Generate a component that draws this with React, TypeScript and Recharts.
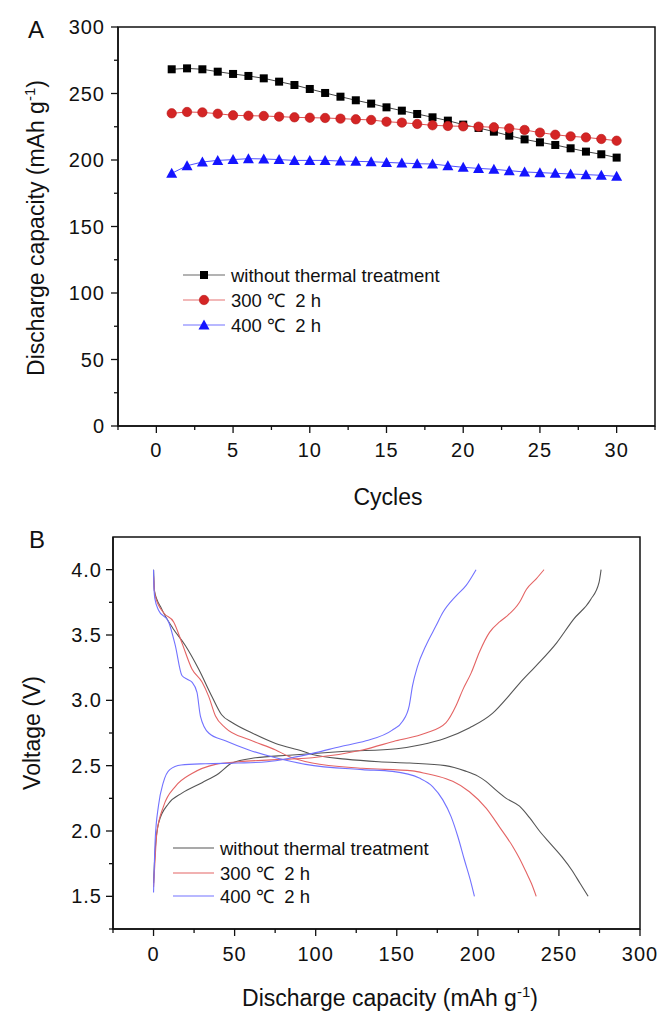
import React from 'react';
import { LineChart, Line, XAxis, YAxis, ReferenceArea } from 'recharts';

const FONT = '"Liberation Sans", Arial, Helvetica, sans-serif';

// ---------- Panel A data ----------
const cycles = [1, 2, 3, 4, 5, 6, 7, 8, 9, 10, 11, 12, 13, 14, 15, 16, 17, 18, 19, 20, 21, 22, 23, 24, 25, 26, 27, 28, 29, 30];
const capNoTreat = [268.2, 268.9, 268.2, 266.4, 264.7, 263.2, 261.4, 258.9, 256.4, 253.4, 250.4, 247.6, 244.9, 242.4, 239.6, 237.1, 234.6, 232.1, 229.6, 226.6, 224.1, 221.3, 218.3, 215.5, 213.3, 211.3, 208.8, 206.3, 204.3, 201.8];
const cap300 = [235.1, 236.1, 235.8, 234.8, 233.6, 233.3, 233.1, 232.6, 232.1, 231.8, 231.6, 231.1, 230.6, 230.1, 228.8, 228.1, 227.1, 226.1, 225.6, 225.3, 225.1, 224.6, 223.8, 222.6, 220.6, 219.0, 217.8, 217.0, 215.8, 214.5];
const cap400 = [190.0, 195.7, 198.5, 199.7, 200.3, 201.0, 200.8, 200.3, 199.7, 199.7, 199.7, 199.2, 199.0, 198.7, 198.2, 197.7, 197.2, 197.0, 195.7, 194.5, 193.7, 193.0, 192.0, 191.0, 190.5, 190.0, 189.5, 189.0, 188.5, 187.7];

const xMajorA = [0, 5, 10, 15, 20, 25, 30];
const xMinorA = [-2.5, 2.5, 7.5, 12.5, 17.5, 22.5, 27.5, 32.5];
const yMajorA = [0, 50, 100, 150, 200, 250, 300];
const yMinorA = [25, 75, 125, 175, 225, 275];

// ---------- Panel B data ----------
const blackDisCap = [0, 0.3, 0.5, 5, 12, 19.6, 27.8, 36, 42, 48.4, 60.8, 75.3, 92, 98, 118.5, 139, 158, 180, 192, 200, 205, 211, 217.5, 225.7, 232, 238, 245, 252, 258, 263, 268];
const blackDisV = [4.0, 3.9, 3.84, 3.7, 3.55, 3.42, 3.24, 3.03, 2.89, 2.83, 2.75, 2.67, 2.61, 2.585, 2.55, 2.53, 2.52, 2.5, 2.46, 2.42, 2.38, 2.315, 2.25, 2.19, 2.1, 2.0, 1.9, 1.8, 1.7, 1.6, 1.5];
const redDisCap = [0, 0.5, 1, 6.2, 12.4, 17.5, 23.7, 29.9, 34, 38.2, 44.3, 58.8, 75.3, 83.5, 97.9, 128.8, 159.7, 168, 180.4, 184.5, 194.8, 205.1, 213.4, 221.6, 225.7, 230, 233, 236];
const redDisV = [3.95, 3.85, 3.8, 3.67, 3.6, 3.44, 3.24, 3.14, 3.03, 2.88, 2.79, 2.7, 2.62, 2.57, 2.52, 2.48, 2.46, 2.44, 2.4, 2.38, 2.3, 2.175, 2.03, 1.88, 1.79, 1.68, 1.6, 1.5];
const blueDisCap = [0, 0.3, 0.8, 3.1, 9.3, 13.4, 17.5, 21, 23.7, 26.8, 28.9, 34, 44.3, 58.8, 75.3, 93.8, 128.8, 147.4, 163.9, 172.1, 178.3, 183.5, 187.6, 191.7, 195.9, 197.9];
const blueDisV = [4.0, 3.85, 3.78, 3.69, 3.6, 3.42, 3.19, 3.16, 3.14, 3.06, 2.88, 2.75, 2.69, 2.62, 2.56, 2.51, 2.47, 2.456, 2.405, 2.34, 2.24, 2.11, 1.96, 1.78, 1.6, 1.5];

const blackChgCap = [0, 1, 3.1, 9.3, 17.5, 29.9, 40.2, 48.4, 62.9, 83.5, 118.5, 150, 165, 180, 195, 209, 219.5, 225.7, 235.6, 248.6, 259, 269.5, 274.7, 276];
const blackChgV = [1.6, 1.85, 2.06, 2.21, 2.29, 2.37, 2.44, 2.52, 2.56, 2.58, 2.61, 2.63, 2.66, 2.71, 2.79, 2.9, 3.04, 3.13, 3.26, 3.44, 3.62, 3.77, 3.9, 4.0];
const redChgCap = [0, 0.8, 2, 6.2, 13.4, 23.7, 38.2, 52.6, 83.5, 97.9, 128.8, 149.4, 168, 180.4, 186.6, 190.7, 195.9, 201, 207.2, 213.4, 217.5, 225.7, 230, 236, 240.8];
const redChgV = [1.57, 1.75, 1.98, 2.19, 2.34, 2.44, 2.51, 2.53, 2.55, 2.56, 2.62, 2.69, 2.75, 2.83, 2.96, 3.08, 3.21, 3.37, 3.52, 3.6, 3.64, 3.75, 3.85, 3.93, 4.0];
const blueChgCap = [0, 0.5, 1, 3, 6, 10, 17, 32, 52, 70, 85, 100, 115, 131, 147, 153.6, 157.7, 159.7, 162.8, 168, 174.2, 178.3, 186.6, 192.8, 198.9];
const blueChgV = [1.53, 1.75, 1.93, 2.19, 2.37, 2.47, 2.505, 2.515, 2.52, 2.53, 2.56, 2.6, 2.645, 2.69, 2.77, 2.84, 2.96, 3.11, 3.26, 3.42, 3.57, 3.67, 3.8, 3.88, 4.0];

const xMajorB = [0, 50, 100, 150, 200, 250, 300];
const xMinorB = [-25, 25, 75, 125, 175, 225, 275];
const yMajorB = [1.5, 2.0, 2.5, 3.0, 3.5, 4.0];
const yMinorB = [1.25, 1.75, 2.25, 2.75, 3.25, 3.75];

const seriesNames = ['without thermal treatment', '300 \u2103\u00a0\u00a02 h', '400 \u2103\u00a0\u00a02 h'];

// ---------- styles ----------
const AX = '#111';
const colA = { black: '#000000', red: '#d42525', blue: '#1414ff' };
const lineA = { black: '#444444', red: '#e05050', blue: '#5050ff' };
const colB = { black: '#555555', red: '#e46464', blue: '#7272ff' };

const dataA = cycles.map((c, i) => ({ c, a: capNoTreat[i], b: cap300[i], d: cap400[i] }));
const pair = (xs: number[], ys: number[]) => xs.map((c, i) => ({ c, v: ys[i] }));

const isIn = (arr: number[], v: number) => arr.some((m) => Math.abs(m - v) < 1e-6);

function yTick(majors: number[], fmt: (v: number) => string, gap: number) {
  return (props: any) => {
    const { x, y, payload } = props;
    const v = payload.value;
    const major = isIn(majors, v);
    const len = major ? 7 : 4;
    return (
      <g>
        <line x1={x} x2={x - len} y1={y} y2={y} stroke={AX} strokeWidth={1.3} />
        {major && (
          <text x={x - gap} y={y} textAnchor="end" dominantBaseline="central" fontSize={20} letterSpacing={1} fontFamily={FONT} fill="#111">
            {fmt(v)}
          </text>
        )}
      </g>
    );
  };
}

function xTick(majors: number[], fmt: (v: number) => string, gap: number) {
  return (props: any) => {
    const { x, y, payload } = props;
    const v = payload.value;
    const major = isIn(majors, v);
    const len = major ? 7 : 4;
    return (
      <g>
        <line x1={x} x2={x} y1={y} y2={y + len} stroke={AX} strokeWidth={1.3} />
        {major && (
          <text x={x} y={y + gap} textAnchor="middle" dominantBaseline="central" fontSize={20} letterSpacing={1} fontFamily={FONT} fill="#111">
            {fmt(v)}
          </text>
        )}
      </g>
    );
  };
}

const squareDot = (p: any) => (
  <rect key={`sq${p.index}`} x={p.cx - 4} y={p.cy - 4} width={8} height={8} fill={colA.black} />
);
const circleDot = (p: any) => (
  <circle key={`ci${p.index}`} cx={p.cx} cy={p.cy} r={4.7} fill={colA.red} stroke="#b81818" strokeWidth={0.6} />
);
const triDot = (p: any) => (
  <path key={`tr${p.index}`} d={`M${p.cx},${p.cy - 5.5} L${p.cx + 5.5},${p.cy + 4.5} L${p.cx - 5.5},${p.cy + 4.5} Z`} fill={colA.blue} />
);

export default function App() {
  return (
    <div style={{ position: 'absolute', left: 0, top: 0, width: 662, height: 1011, background: '#fff' }}>
      {/* Panel A */}
      <div style={{ position: 'absolute', left: 0, top: 0 }}>
        <LineChart width={662} height={520} data={dataA} margin={{ top: 27, right: 7, left: 0, bottom: 0 }}>
          <ReferenceArea x1={-2.5} x2={32.5} y1={0} y2={300} fill="none" fillOpacity={0} stroke={AX} strokeWidth={1.5} ifOverflow="visible" />
          <XAxis
            dataKey="c"
            type="number"
            domain={[-2.5, 32.5]}
            ticks={[...xMajorA, ...xMinorA]}
            interval={0}
            height={94}
            tickSize={0}
            tickMargin={0}
            axisLine={{ stroke: AX, strokeWidth: 1.5 }}
            tick={xTick(xMajorA, (v) => String(v), 24)}
            allowDataOverflow
          />
          <YAxis
            type="number"
            domain={[0, 300]}
            ticks={[...yMajorA, ...yMinorA]}
            interval={0}
            width={118}
            tickSize={0}
            tickMargin={0}
            axisLine={{ stroke: AX, strokeWidth: 1.5 }}
            tick={yTick(yMajorA, (v) => String(v), 13)}
            allowDataOverflow
          />
          <Line dataKey="a" type="linear" stroke={lineA.black} strokeWidth={1} dot={squareDot} activeDot={false} isAnimationActive={false} />
          <Line dataKey="b" type="linear" stroke={lineA.red} strokeWidth={1} dot={circleDot} activeDot={false} isAnimationActive={false} />
          <Line dataKey="d" type="linear" stroke={lineA.blue} strokeWidth={1} dot={triDot} activeDot={false} isAnimationActive={false} />
        </LineChart>
      </div>

      {/* Panel B */}
      <div style={{ position: 'absolute', left: 0, top: 520 }}>
        <LineChart width={662} height={491} margin={{ top: 17, right: 22, left: 0, bottom: 0 }}>
          <ReferenceArea x1={-25} x2={300} y1={1.25} y2={4.25} fill="none" fillOpacity={0} stroke={AX} strokeWidth={1.5} ifOverflow="visible" />
          <XAxis
            dataKey="c"
            type="number"
            domain={[-25, 300]}
            ticks={[...xMajorB, ...xMinorB]}
            interval={0}
            height={82}
            tickSize={0}
            tickMargin={0}
            axisLine={{ stroke: AX, strokeWidth: 1.5 }}
            tick={xTick(xMajorB, (v) => String(v), 25)}
            allowDataOverflow
          />
          <YAxis
            type="number"
            domain={[1.25, 4.25]}
            ticks={[...yMajorB, ...yMinorB]}
            interval={0}
            width={113}
            tickSize={0}
            tickMargin={0}
            axisLine={{ stroke: AX, strokeWidth: 1.5 }}
            tick={yTick(yMajorB, (v) => v.toFixed(1), 11)}
            allowDataOverflow
          />
          <Line data={pair(blackDisCap, blackDisV)} dataKey="v" type="monotone" stroke={colB.black} strokeWidth={1.1} dot={false} activeDot={false} isAnimationActive={false} />
          <Line data={pair(blackChgCap, blackChgV)} dataKey="v" type="monotone" stroke={colB.black} strokeWidth={1.1} dot={false} activeDot={false} isAnimationActive={false} />
          <Line data={pair(redDisCap, redDisV)} dataKey="v" type="monotone" stroke={colB.red} strokeWidth={1.1} dot={false} activeDot={false} isAnimationActive={false} />
          <Line data={pair(redChgCap, redChgV)} dataKey="v" type="monotone" stroke={colB.red} strokeWidth={1.1} dot={false} activeDot={false} isAnimationActive={false} />
          <Line data={pair(blueDisCap, blueDisV)} dataKey="v" type="monotone" stroke={colB.blue} strokeWidth={1.1} dot={false} activeDot={false} isAnimationActive={false} />
          <Line data={pair(blueChgCap, blueChgV)} dataKey="v" type="monotone" stroke={colB.blue} strokeWidth={1.1} dot={false} activeDot={false} isAnimationActive={false} />
        </LineChart>
      </div>

      {/* Titles and legends overlay */}
      <svg width={662} height={1011} style={{ position: 'absolute', left: 0, top: 0, pointerEvents: 'none' }} fontFamily={FONT}>
        <text x={36} y={38} fontSize={24} textAnchor="middle" fill="#111">A</text>
        <text x={37} y={548} fontSize={24} textAnchor="middle" fill="#111">B</text>

        <text transform="rotate(-90, 44, 228)" x={44} y={228} fontSize={23} textAnchor="middle" fill="#111">
          Discharge capacity (mAh g<tspan dy={-9} fontSize={15}>-1</tspan><tspan dy={9}>)</tspan>
        </text>
        <text x={388} y={505} fontSize={23} textAnchor="middle" fill="#111">Cycles</text>

        <text transform="rotate(-90, 40, 733)" x={40} y={733} fontSize={23} textAnchor="middle" fill="#111">Voltage (V)</text>
        <text x={390} y={1006} fontSize={23} textAnchor="middle" fill="#111">
          Discharge capacity (mAh g<tspan dy={-9} fontSize={15}>-1</tspan><tspan dy={9}>)</tspan>
        </text>

        {/* Legend A */}
        {[275, 300, 325].map((cy, i) => {
          const lc = [lineA.black, lineA.red, lineA.blue][i];
          return (
            <g key={`la${i}`}>
              <line x1={183} x2={225} y1={cy} y2={cy} stroke={lc} strokeWidth={1.2} opacity={0.8} />
              {i === 0 && <rect x={200} y={cy - 4} width={8} height={8} fill={colA.black} />}
              {i === 1 && <circle cx={204} cy={cy} r={4.7} fill={colA.red} stroke="#b81818" strokeWidth={0.6} />}
              {i === 2 && <path d={`M204,${cy - 5.5} L209.5,${cy + 4.5} L198.5,${cy + 4.5} Z`} fill={colA.blue} />}
              <text x={231} y={cy} dominantBaseline="central" fontSize={18.5} fill="#111">{seriesNames[i]}</text>
            </g>
          );
        })}

        {/* Legend B */}
        {[848, 873, 896].map((cy, i) => {
          const lc = [colB.black, colB.red, colB.blue][i];
          return (
            <g key={`lb${i}`}>
              <line x1={173} x2={214} y1={cy} y2={cy} stroke={lc} strokeWidth={1.2} />
              <text x={220} y={cy} dominantBaseline="central" fontSize={18.5} fill="#111">{seriesNames[i]}</text>
            </g>
          );
        })}
      </svg>
    </div>
  );
}
